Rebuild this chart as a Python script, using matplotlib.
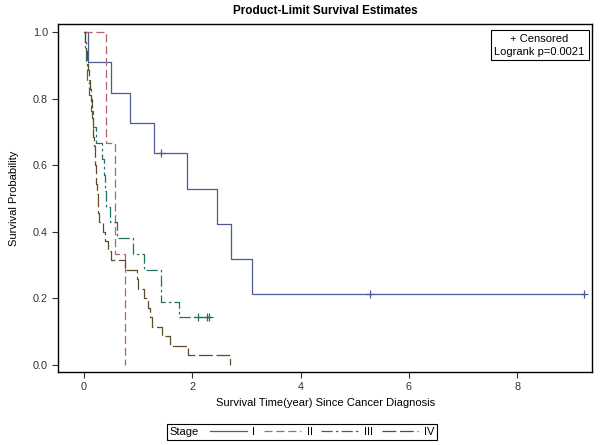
import matplotlib
matplotlib.use("Agg")
import matplotlib.pyplot as plt
from matplotlib.lines import Line2D
from matplotlib.offsetbox import HPacker

plt.rcParams['font.family'] = ['Liberation Sans', 'DejaVu Sans']

# stage labels
stages = ['I', 'II', 'III', 'IV']

# Kaplan-Meier steps (time in years, survival)
t_I = [0, 0.08, 0.51, 0.86, 1.30, 1.91, 2.45, 2.72, 3.10, 9.23]
s_I = [1.0, 0.909, 0.818, 0.727, 0.636, 0.530, 0.424, 0.318, 0.212, 0.212]
cens_t_I = [1.42, 5.28, 9.23]
cens_s_I = [0.636, 0.212, 0.212]

t_II = [0, 0.41, 0.58, 0.76]
s_II = [1.0, 0.667, 0.333, 0.0]
cens_t_II = []
cens_s_II = []

t_III = [0, 0.02, 0.04, 0.07, 0.10, 0.13, 0.17, 0.22, 0.33, 0.37, 0.40, 0.42,
         0.49, 0.62, 0.91, 1.12, 1.43, 1.75, 2.31]
s_III = [1.0, 0.952, 0.905, 0.857, 0.810, 0.762, 0.714, 0.667, 0.619, 0.571,
         0.524, 0.476, 0.429, 0.381, 0.333, 0.286, 0.190, 0.143, 0.143]
cens_t_III = [2.10, 2.27, 2.31]
cens_s_III = [0.143, 0.143, 0.143]

t_IV = [0, 0.02, 0.04, 0.06, 0.08, 0.10, 0.12, 0.14, 0.15, 0.16, 0.17, 0.18,
        0.19, 0.20, 0.21, 0.22, 0.235, 0.25, 0.26, 0.27, 0.28, 0.36, 0.40,
        0.45, 0.51, 0.77, 0.98, 1.01, 1.12, 1.18, 1.22, 1.26, 1.45, 1.60,
        1.93, 2.70]
s_IV = [1.0, 0.971, 0.943, 0.914, 0.886, 0.857, 0.829, 0.800, 0.771, 0.743,
        0.714, 0.686, 0.657, 0.629, 0.600, 0.571, 0.543, 0.514, 0.486, 0.457,
        0.429, 0.400, 0.371, 0.343, 0.314, 0.286, 0.257, 0.229, 0.200, 0.171,
        0.143, 0.114, 0.086, 0.057, 0.029, 0.0]
cens_t_IV = []
cens_s_IV = []

x_ticks = [0, 2, 4, 6, 8]
y_ticks = [0.0, 0.2, 0.4, 0.6, 0.8, 1.0]

series = [(t_I, s_I, cens_t_I, cens_s_I),
          (t_II, s_II, cens_t_II, cens_s_II),
          (t_III, s_III, cens_t_III, cens_s_III),
          (t_IV, s_IV, cens_t_IV, cens_s_IV)]

colors = ['#4f5a94', '#b0646e', '#22706a', '#5e4a26']
styles = ['-', (0, (6.5, 3)), (0, (9, 2.5, 2, 2.5)), (0, (11, 3))]

fig = plt.figure(figsize=(6, 4.45), dpi=100, facecolor='white')
ax = fig.add_axes([0.097, 0.164, 0.89, 0.782])

handles = []
for (t, s, ct, cs), c, ls in zip(series, colors, styles):
    ax.step(t, s, where='post', color=c, ls=ls, lw=0.9)
    if ct:
        ax.plot(ct, cs, ls='none', marker='+', ms=6, mew=0.9, color=c)
    handles.append(Line2D([], [], color=c, ls=ls, lw=0.9))

ax.set_xlim(-0.47, 9.38)
ax.set_ylim(-0.021, 1.024)
ax.set_xticks(x_ticks)
ax.set_yticks(y_ticks)
ax.set_yticklabels(['%.1f' % v for v in y_ticks])
ax.tick_params(direction='out', length=4, labelsize=7.8, colors='#333333')
for sp in ax.spines.values():
    sp.set_color('black')
    sp.set_linewidth(1)

ax.set_xlabel('Survival Time(year) Since Cancer Diagnosis', fontsize=8, labelpad=4)
ax.set_ylabel('Survival Probability', fontsize=8, labelpad=10)
ax.set_title('Product-Limit Survival Estimates', fontsize=8.5, fontweight='bold', pad=7)

ax.text(0.986, 0.972, '+ Censored\nLogrank p=0.0021', transform=ax.transAxes,
        ha='right', va='top', multialignment='center', fontsize=8,
        linespacing=1.35,
        bbox=dict(boxstyle='square,pad=0.35', fc='white', ec='black', lw=0.8))

leg = fig.legend(handles, stages, title='Stage', ncol=4, loc='center',
                 bbox_to_anchor=(302 / 600, 1 - 432 / 445), fontsize=8,
                 title_fontsize=8, handlelength=3.3, handletextpad=0.5,
                 columnspacing=0.8, borderpad=0.3, fancybox=False,
                 edgecolor='black', framealpha=1)
leg.get_frame().set_linewidth(0.8)
# put the legend title on the left of the entries, like SAS does
fs = leg._fontsize
leg._legend_box = HPacker(pad=leg.borderpad * fs, sep=1.0 * fs, align='center',
                          children=[leg._legend_title_box, leg._legend_handle_box])
leg._legend_box.set_figure(fig)
leg._legend_box.set_offset(leg._findoffset)

fig.savefig('out.png', dpi=100, facecolor=fig.get_facecolor())
